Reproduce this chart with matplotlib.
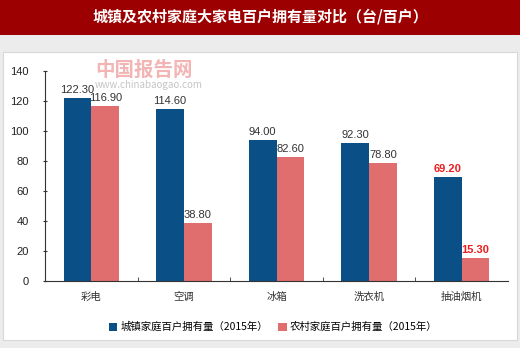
import matplotlib
matplotlib.use("Agg")
import matplotlib.pyplot as plt
import matplotlib.patches as mpatches
import numpy as np

plt.rcParams['font.family'] = ['Noto Sans CJK SC', 'DejaVu Sans']

categories = ["彩电", "空调", "冰箱", "洗衣机", "抽油烟机"]
urban = [122.30, 114.60, 94.00, 92.30, 69.20]
rural = [116.90, 38.80, 82.60, 78.80, 15.30]
series_names = ["城镇家庭百户拥有量（2015年）", "农村家庭百户拥有量（2015年）"]
title = "城镇及农村家庭大家电百户拥有量对比（台/百户）"
yticks = [0, 20, 40, 60, 80, 100, 120, 140]

blue = "#0b4f87"
pink = "#e06e6e"
numfont = ['Liberation Sans', 'DejaVu Sans']

fig = plt.figure(figsize=(5.2, 3.48), dpi=100)
fig.patch.set_facecolor("#ececec")

# title banner
fig.patches.append(mpatches.Rectangle((0, 1 - 35/348), 1, 35/348, transform=fig.transFigure,
                                      facecolor="#9c0000", edgecolor="none", zorder=-2))
# white panel
fig.patches.append(mpatches.Rectangle((3/520, 1 - 340/348), 514/520, (340-52)/348, transform=fig.transFigure,
                                      facecolor="white", edgecolor="#d8d8d8", lw=0.8, zorder=-2))
fig.text(0.5, 1 - 17/348, title, color="white", fontsize=10.8, fontweight="bold",
         ha="center", va="center")

# watermark
fig.text(95/520, 1 - 70/348, "中国报告网", color="#f3b4b4", fontsize=14, fontweight="bold",
         ha="left", va="center", zorder=-1)
fig.text(95/520, 1 - 85/348, "www.chinabaogao.com", color="#c4c4c4", fontsize=7,
         ha="left", va="center", zorder=-1)

ax = fig.add_axes([45/520, 1 - 281/348, (508-45)/520, (281-71)/348])
ax.set_zorder(2)
ax.set_facecolor("none")
x = np.arange(len(categories))
w = 0.3
b1 = ax.bar(x - w/2, urban, w, color=blue, label=series_names[0])
b2 = ax.bar(x + w/2, rural, w, color=pink, label=series_names[1])

ax.set_xlim(-0.5, len(categories) - 0.5)
ax.set_ylim(0, 140)
ax.set_yticks(yticks)
ax.set_yticklabels([str(t) for t in yticks], fontsize=8, color="#222222", family=numfont)
ax.set_xticks(x)
ax.set_xticklabels(categories, fontsize=7.5, color="#333333")
ax.tick_params(axis="x", length=0, pad=8)
ax.set_xticks(np.arange(0.5, len(categories) - 0.5, 1), minor=True)
ax.tick_params(axis="x", which="minor", length=3, direction="in", color="#333333")
ax.tick_params(axis="y", length=3, direction="inout", color="#333333", pad=10)
for s in ["top", "right"]:
    ax.spines[s].set_visible(False)
ax.spines["left"].set_color("#333333")
ax.spines["bottom"].set_color("#333333")
ax.spines["left"].set_linewidth(0.8)
ax.spines["bottom"].set_linewidth(0.8)

for i in range(len(categories)):
    c = "#ee1c1c" if i == len(categories) - 1 else "#333333"
    fw = "bold" if i == len(categories) - 1 else "normal"
    ax.text(x[i] - w/2, urban[i] + 2, f"{urban[i]:.2f}", ha="center", va="bottom",
            fontsize=8, color=c, fontweight=fw, family=numfont)
    ax.text(x[i] + w/2, rural[i] + 2, f"{rural[i]:.2f}", ha="center", va="bottom",
            fontsize=8, color=c, fontweight=fw, family=numfont)

fig.legend(handles=[b1, b2], labels=series_names, loc="center", bbox_to_anchor=(273/520, 1 - 327/348),
           ncol=2, frameon=False, fontsize=7.5, handlelength=0.8, handleheight=0.8,
           handletextpad=0.3, columnspacing=1.0)

fig.savefig("out.png", dpi=100, facecolor=fig.get_facecolor())
